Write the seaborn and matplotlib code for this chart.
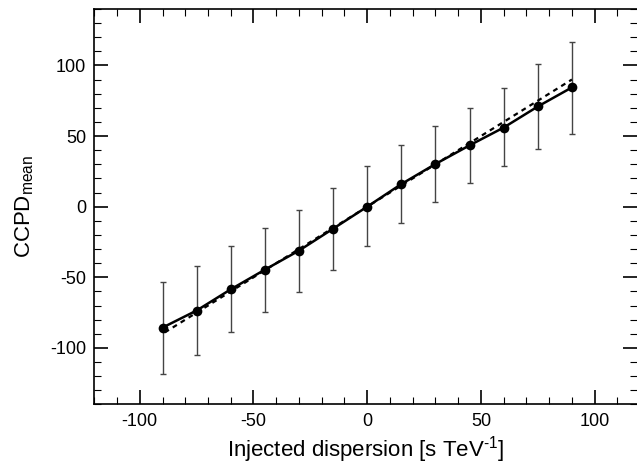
import numpy as np
import pandas as pd
import matplotlib
matplotlib.use('Agg')
import matplotlib.pyplot as plt
import seaborn as sns
from matplotlib.ticker import MultipleLocator

# Datos
injected = [-90, -75, -60, -45, -30, -15, 0, 15, 30, 45, 60, 75, 90]
ccpd_mean = [-85.6, -73.5, -58.5, -44.6, -31.1, -15.6, 0.0, 16.0, 30.2, 43.4, 56.0, 70.9, 84.4]
err_low = [-118.1, -104.7, -88.6, -74.3, -60.6, -44.8, -28.1, -11.5, 3.0, 16.5, 28.5, 41.0, 51.6]
err_high = [-53.2, -41.9, -27.6, -14.9, -2.1, 13.2, 29.0, 43.8, 56.8, 69.8, 83.7, 100.8, 116.5]
ideal_x = [-89, 90]
ideal_y = [-89, 90]

df = pd.DataFrame({'injected': injected, 'ccpd': ccpd_mean,
                   'low': err_low, 'high': err_high})

sns.set_style('ticks')
plt.rcParams['font.family'] = ['Liberation Sans', 'DejaVu Sans']
plt.rcParams['mathtext.default'] = 'regular'
plt.rcParams['axes.unicode_minus'] = False
plt.rcParams['text.color'] = 'black'
plt.rcParams['axes.labelcolor'] = 'black'
plt.rcParams['xtick.color'] = 'black'
plt.rcParams['ytick.color'] = 'black'

fig = plt.figure(figsize=(6.37, 4.66), dpi=100)
ax = fig.add_axes([0.148, 0.132, 0.852, 0.849])

# Barras de error asimetricas
yerr = np.array([df['ccpd'] - df['low'], df['high'] - df['ccpd']])
ax.errorbar(df['injected'], df['ccpd'], yerr=yerr, fmt='none',
            ecolor='#444444', elinewidth=1.0, capsize=2.5, capthick=1.0, zorder=2)

# Linea ideal (discontinua) y medida (continua)
sns.lineplot(x=ideal_x, y=ideal_y, ax=ax, color='black', linewidth=1.6,
             linestyle=(0, (2.2, 2.0)), zorder=3)
sns.lineplot(data=df, x='injected', y='ccpd', ax=ax, color='black',
             linewidth=1.8, marker='o', markersize=7, markeredgewidth=0, zorder=4)

ax.set_xlim(-120, 118.6)
ax.set_ylim(-140, 140)
ax.xaxis.set_major_locator(MultipleLocator(50))
ax.xaxis.set_minor_locator(MultipleLocator(10))
ax.yaxis.set_major_locator(MultipleLocator(50))
ax.yaxis.set_minor_locator(MultipleLocator(10))
ax.tick_params(which='both', direction='in', top=True, right=True,
               labelsize=13, color='black', labelcolor='black')
ax.tick_params(which='major', length=10, width=1.2, pad=6)
ax.tick_params(which='minor', length=5, width=0.8)
ax.spines['right'].set_visible(False)
for s in ['left', 'bottom', 'top']:
    ax.spines[s].set_linewidth(1.2)
    ax.spines[s].set_color('black')

ax.set_xlabel('Injected dispersion [s TeV$^{\u2010 1}$]', fontsize=16, labelpad=3)
ax.set_ylabel('CCPD$_{mean}$', fontsize=16, labelpad=10)

fig.savefig('out.png', dpi=100)
plt.close()
